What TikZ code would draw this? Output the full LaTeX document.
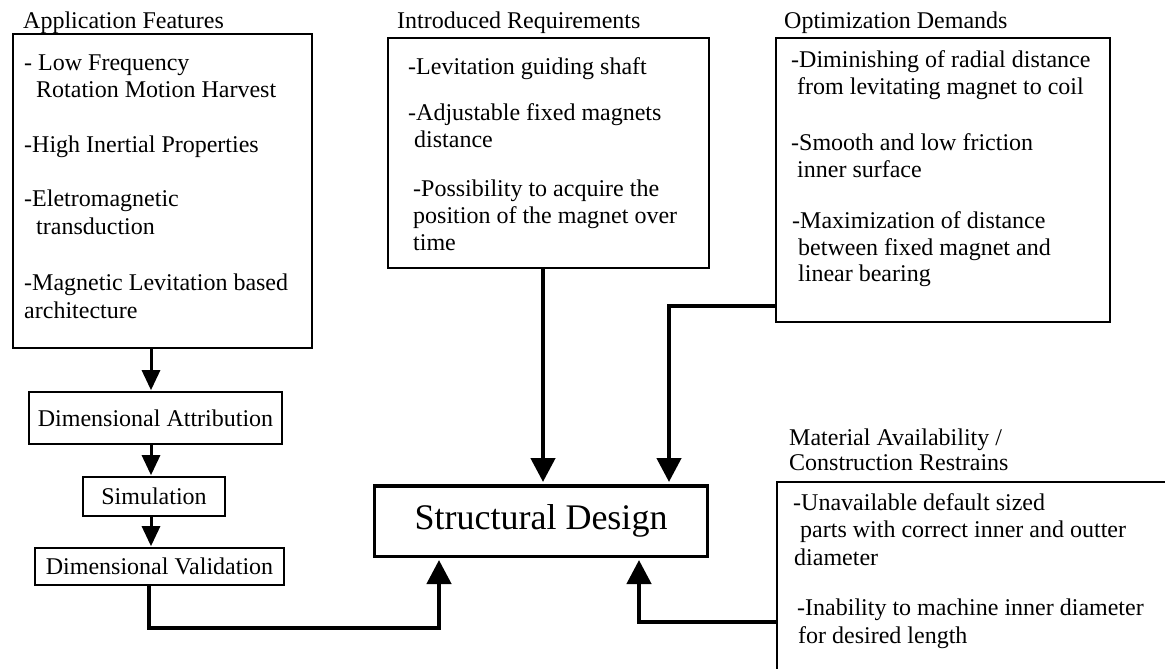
\documentclass[tikz,border=0pt]{standalone}
\usepackage{fontspec}
\setmainfont{Liberation Serif}
\usetikzlibrary{arrows.meta}
\begin{document}
\begin{tikzpicture}[x=1pt,y=-1pt,
  box/.style={draw,line width=1.6pt,inner sep=0pt,anchor=north west},
  txt/.style={inner sep=0pt,anchor=north west,align=left,font=\fontsize{24}{27}\selectfont},
  ttl/.style={inner sep=0pt,anchor=base west,font=\fontsize{24}{27}\selectfont},
  sbox/.style={draw,line width=1.6pt,inner sep=0pt,font=\fontsize{24}{27}\selectfont},
  conn/.style={line width=4.5pt,-{Triangle[width=24pt,length=24pt]},line join=miter,shorten >=2pt},
  sconn/.style={line width=3pt,-{Triangle[width=18pt,length=20pt]},shorten >=1pt},
]
\useasboundingbox (0,0) rectangle (1165,669);
\clip (0,0) rectangle (1165,669);

% Application Features
\node[box,minimum width=299pt,minimum height=314pt] (af) at (12,33) {};
\node[ttl] (aft) at (23,29) {Application Features};
\node[txt,font=\fontsize{24}{27.5}\selectfont] (afx) at (24,50.75) {\strut- Low Frequency\\
\hspace*{12pt}Rotation Motion Harvest\\[27pt]
-High Inertial Properties\\[27pt]
-Eletromagnetic\\
\hspace*{12pt}transduction\\[29pt]
-Magnetic Levitation based\\
architecture};

% Introduced Requirements
\node[box,minimum width=321pt,minimum height=230pt] (ir) at (387,37) {};
\node[ttl] (irt) at (397,29) {Introduced Requirements};
\node[txt] (irx) at (408,55.75) {\strut-Levitation guiding shaft\\[19pt]
-Adjustable fixed magnets\\
\hspace*{6pt}distance\\[22pt]
\hspace*{5pt}-Possibility to acquire the\\
\hspace*{5pt}position of the magnet over\\
\hspace*{5pt}time};

% Optimization Demands
\node[box,minimum width=334pt,minimum height=284pt] (od) at (775,37) {};
\node[ttl] (odt) at (784,29) {Optimization Demands};
\node[txt,font=\fontsize{24}{26.5}\selectfont] (odx) at (791,48.75) {\strut-Diminishing of radial distance\\
\hspace*{6pt}from levitating magnet to coil\\[30pt]
-Smooth and low friction\\
\hspace*{6pt}inner surface\\[25pt]
\hspace*{1pt}-Maximization of distance\\
\hspace*{7pt}between fixed magnet and\\
\hspace*{7pt}linear bearing};

% Material Availability
\node[box,minimum width=420pt,minimum height=220pt] (ma) at (776,481) {};
\node[txt,font=\fontsize{24}{25}\selectfont] (mat) at (789,427.75) {\strut Material Availability /\\
Construction Restrains};
\node[txt,font=\fontsize{24}{27.5}\selectfont] (max) at (792,490.75) {\strut\hspace*{1pt}-Unavailable default sized\\
\hspace*{8pt}parts with correct inner and outter\\
\hspace*{2pt}diameter\\[23pt]
\hspace*{5pt}-Inability to machine inner diameter\\
\hspace*{6pt}for desired length};

% Left column
\node[sbox,minimum width=253pt,minimum height=52pt] (da) at (155.5,418) {Dimensional Attribution};
\node[sbox,minimum width=142pt,minimum height=39pt] (sim) at (154,496.5) {Simulation};
\node[sbox,minimum width=249pt,minimum height=37pt] (dv) at (159.5,566.5) {Dimensional Validation};

% Structural Design
\node[draw,line width=3.5pt,minimum width=333pt,minimum height=70.5pt,inner sep=0pt,font=\fontsize{36}{40}\selectfont] (sd) at (541,521) {Structural Design};

% helper coordinates
\coordinate (xa) at (151,0);
\coordinate (xv) at (149,0);
\coordinate (xl) at (439,0);
\coordinate (xi) at (543,0);
\coordinate (xo) at (669,0);
\coordinate (xm) at (639,0);
\coordinate (yo) at (0,306);
\coordinate (ym) at (0,622);
\coordinate (yv) at (0,628);

% connectors
\draw[sconn] (af.south -| xa) -- (da.north -| xa);
\draw[sconn] (da.south -| xa) -- (sim.north -| xa);
\draw[sconn] (sim.south -| xa) -- (dv.north -| xa);
\draw[conn] (dv.south -| xv) |- (yv -| xl) -- (sd.south -| xl);
\draw[conn] (ir.south -| xi) -- (sd.north -| xi);
\draw[conn] (od.west |- yo) -| (sd.north -| xo);
\draw[conn] (ma.west |- ym) -| (sd.south -| xm);
\end{tikzpicture}
\end{document}
